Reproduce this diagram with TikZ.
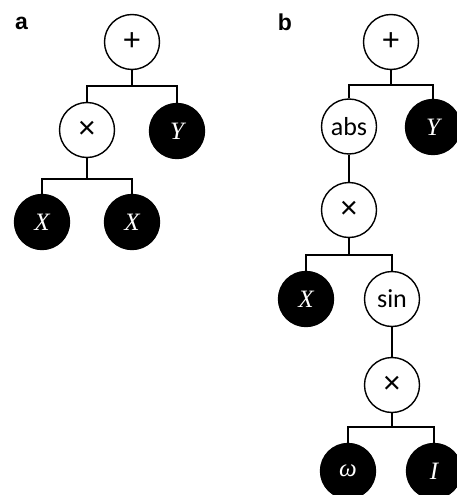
\documentclass[tikz,border=0pt]{standalone}
\usepackage{fontspec}
\setmainfont{Liberation Serif}
\setsansfont{Carlito}
\newfontfamily\labfont{Liberation Sans}
\begin{document}
\begin{tikzpicture}[x=1pt,y=-1pt,line width=1.4pt,
  op/.style={circle,draw=black,fill=white,minimum size=55pt,inner sep=0pt,font=\sffamily\fontsize{26}{26}\selectfont},
  sym/.style={op,font=\labfont\fontsize{31}{31}\selectfont},
  var/.style={circle,draw=black,fill=black,text=white,minimum size=55pt,inner sep=0pt,font=\fontsize{25}{25}\selectfont\itshape},
  lab/.style={font=\labfont\bfseries\fontsize{23}{23}\selectfont,inner sep=0pt},
  tree/.style={draw=black,line width=1.4pt}]
\useasboundingbox (0,0) rectangle (456,495);
% panel a
\node[lab] (la) at (21.5,23) {a};
\node[sym] (ap) at (132,42) {+};
\node[sym] (am) at (87,130) {×};
\node[var] (ay) at (177,131) {Y};
\node[var] (ax1) at (42,222) {X};
\node[var] (ax2) at (132,222) {X};
\coordinate (ab1) at (132,86);
\draw[tree] (ap.south) -- (ab1);
\draw[tree] (am.north) |- (ab1) -| (ay.north);
\coordinate (ab2) at (87,179);
\draw[tree] (am.south) -- (ab2);
\draw[tree] (ax1.north) |- (ab2) -| (ax2.north);
% panel b
\node[lab] (lb) at (285,22) {b};
\node[sym] (bp) at (391,42) {+};
\node[op] (babs) at (349,126.5) {abs};
\node[var] (by) at (433,127) {Y};
\node[sym] (bm1) at (349,210) {×};
\node[var] (bx) at (306,299) {X};
\node[op] (bsin) at (392,299) {sin};
\node[sym] (bm2) at (392,385) {×};
\node[var] (bw) at (348,471) {ω};
\node[var] (bi) at (434,471) {I};
\coordinate (bb1) at (391,85);
\draw[tree] (bp.south) -- (bb1);
\draw[tree] (babs.north) |- (bb1) -| (by.north);
\draw[tree] (babs.south) -- (bm1.north);
\coordinate (bb2) at (349,255);
\draw[tree] (bm1.south) -- (bb2);
\draw[tree] (bx.north) |- (bb2) -| (bsin.north);
\draw[tree] (bsin.south) -- (bm2.north);
\coordinate (bb3) at (392,427);
\draw[tree] (bm2.south) -- (bb3);
\draw[tree] (bw.north) |- (bb3) -| (bi.north);
\end{tikzpicture}
\end{document}
